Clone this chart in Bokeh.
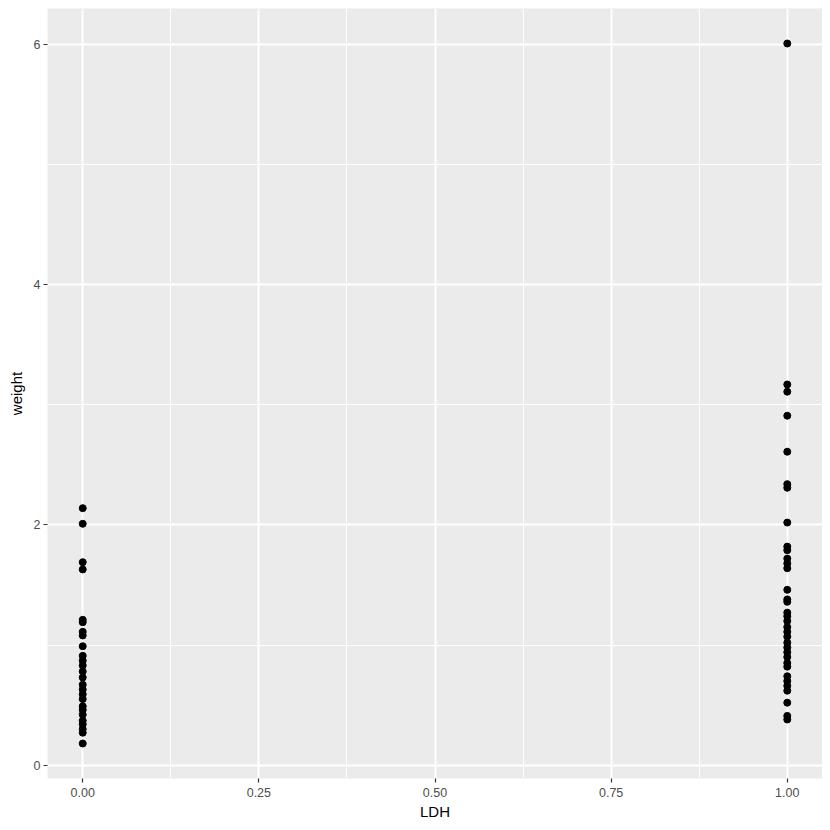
from bokeh.plotting import figure
from bokeh.models import FixedTicker, ColumnDataSource
from bokeh.embed import file_html
from bokeh.resources import INLINE

# data
ldh0_weight = [2.14, 2.01, 1.69, 1.63, 1.21, 1.19, 1.11, 1.08, 0.99, 0.91, 0.87, 0.83, 0.78,
               0.73, 0.67, 0.63, 0.59, 0.55, 0.49, 0.46, 0.42, 0.37, 0.34, 0.30, 0.27, 0.18]
ldh1_weight = [6.01, 3.17, 3.11, 2.91, 2.61, 2.34, 2.31, 2.02, 1.82, 1.79, 1.72, 1.68, 1.64,
               1.46, 1.38, 1.36, 1.27, 1.24, 1.20, 1.15, 1.11, 1.07, 1.02, 0.98, 0.94, 0.90,
               0.85, 0.82, 0.74, 0.70, 0.66, 0.62, 0.52, 0.41, 0.38]
x_ticks = [0, 0.25, 0.5, 0.75, 1.0]
x_tick_labels = ["0.00", "0.25", "0.50", "0.75", "1.00"]
y_ticks = [0, 2, 4, 6]

ldh = [0] * len(ldh0_weight) + [1] * len(ldh1_weight)
weight = ldh0_weight + ldh1_weight
src = ColumnDataSource(dict(LDH=ldh, weight=weight))

ymin, ymax = min(weight), max(weight)
yexp = 0.05 * (ymax - ymin)

p = figure(width=822, height=822, output_backend="svg", toolbar_location=None,
           x_range=(-0.05, 1.05), y_range=(ymin - yexp, ymax + yexp),
           min_border_left=47, min_border_right=0, min_border_top=8, min_border_bottom=44,
           frame_width=775, frame_height=770)

p.background_fill_color = "#EBEBEB"
p.border_fill_color = "white"
p.outline_line_color = None

p.scatter("LDH", "weight", source=src, size=7, color="black")

p.xaxis.ticker = FixedTicker(ticks=x_ticks, minor_ticks=[0.125, 0.375, 0.625, 0.875])
p.xaxis.major_label_overrides = {t: l for t, l in zip(x_ticks, x_tick_labels)}
p.yaxis.ticker = FixedTicker(ticks=y_ticks, minor_ticks=[1, 3, 5])

for ax in (p.xaxis, p.yaxis):
    ax.axis_line_color = None
    ax.major_tick_line_color = "#333333"
    ax.major_tick_line_width = 1.2
    ax.major_tick_out = 4
    ax.major_tick_in = 0
    ax.minor_tick_line_color = None
    ax.major_label_text_color = "#4D4D4D"
    ax.major_label_text_font = "Liberation Sans"
    ax.major_label_text_font_size = "12.5px"
    ax.axis_label_text_font = "Liberation Sans"
    ax.axis_label_text_font_size = "15px"
    ax.axis_label_text_font_style = "normal"
    ax.axis_label_text_color = "black"
    ax.major_label_standoff = 3

p.xaxis.major_label_standoff = 5
p.xaxis.axis_label = "LDH"
p.yaxis.axis_label = "weight"
p.xaxis.axis_label_standoff = 3
p.yaxis.axis_label_standoff = 6

p.grid.grid_line_color = "white"
p.grid.grid_line_width = 1.9
p.grid.minor_grid_line_color = "white"
p.grid.minor_grid_line_width = 0.95

open("out.html", "w").write(file_html(p, INLINE))
